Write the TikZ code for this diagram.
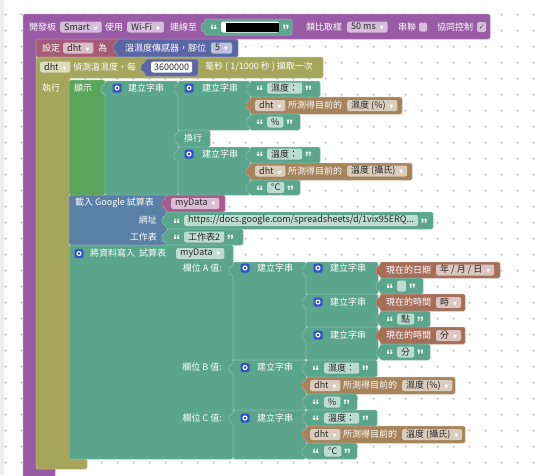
\documentclass[tikz,border=0pt]{standalone}
\usepackage{fontspec}
\setmainfont{Noto Sans CJK TC}
\newfontfamily\latin{Liberation Sans}
\newfontfamily\sym{DejaVu Sans}
\usetikzlibrary{positioning}
\definecolor{cPurp}{HTML}{995BA5}
\definecolor{cRose}{HTML}{A55B75}
\definecolor{cPink}{HTML}{A55B8C}
\definecolor{cSens}{HTML}{5B67A5}
\definecolor{cOliv}{HTML}{A5A55B}
\definecolor{cGrn}{HTML}{5BA55B}
\definecolor{cTeal}{HTML}{5BA58C}
\definecolor{cSlate}{HTML}{5B80A5}
\definecolor{cBrn}{HTML}{A5835B}
\definecolor{cTime}{HTML}{A56E5B}
\definecolor{cGear}{HTML}{3352CC}
\definecolor{cDot}{HTML}{D4D4D4}
\newcommand\blkfont{\fontsize{9}{10}\selectfont}
\newcommand\dn{\hspace{4pt}{\sym\fontsize{5}{5}\selectfont\textcolor{white}{▼}}}

\begin{document}
\begin{tikzpicture}[x=1pt, y=-1pt,
    blk/.style={fill=#1, draw=#1!70!white, line width=.5pt, rounded corners=1.5pt},
    tab/.style={insert path={-- ++(0,4) -- ++(-4,1) -- ++(0,7) -- ++(4,1)}},
    lab/.style={text=white, inner sep=0pt, anchor=west, font=\blkfont},
    qt/.style={text=white, inner sep=0pt, anchor=west, yshift=-3.5pt,
      font={\latin\bfseries\fontsize{15}{15}\selectfont}},
    fld/.style={fill=white, fill opacity=.6, text opacity=1, text=black!85,
      rounded corners=2pt, inner xsep=4pt, inner ysep=0pt,
      minimum height=11pt, anchor=west, font=\blkfont},
    gearbox/.style={fill=cGear, rounded corners=1.5pt, minimum size=9pt, inner sep=0pt,
      path picture={\draw[white, line width=1.1pt] (path picture bounding box.center) circle (2pt);}},
    chkbox/.style={fill=white, fill opacity=.6, text opacity=1, rounded corners=1.5pt,
      minimum width=8pt, minimum height=9pt, inner sep=0pt, anchor=west}
  ]
  \useasboundingbox (0,0) rectangle (544,475);
  \fill[black!7] (0,0) rectangle (4,475);
  % workspace grid
  \foreach \gx in {5,21,...,533} {
    \foreach \gy in {14,30,...,462} {
      \draw[cDot, line width=.4pt] (\gx-1.5,\gy) -- (\gx+1.5,\gy) (\gx,\gy-1.5) -- (\gx,\gy+1.5);
    }
  }

  % board block
  \fill[blk=cPurp] (23,14) -- (490,14) -- (490,39) -- (36,39) -- (36,467) -- (55,467)
    -- (55,480) -- (23,480) -- cycle;
  \node (brd) [lab] at (29,27) {開發板};
  \node (smart) [fld] at (60,27) {Smart\dn};
  \node (use) [lab] at (105,27) {使用};
  \node (wifi) [fld] at (127,27) {Wi-Fi\dn};
  \node (conn) [lab] at (170,27) {連線至};
  \fill[blk=cTeal] (205,19) [tab] -- (205,35) -- (292,35) -- (292,19) -- cycle;
  \node (ssidq) [qt] at (210,27) {“};
  \node (ssid) [fld, minimum width=58pt, fill opacity=1] at (221,27) {};
  \fill[black] (226,22.5) rectangle (279,31.5);
  \node (ssidq2) [qt] at (282,27) {”};
  \node (adc) [lab] at (306,27) {類比取樣};
  \node (ms) [fld] at (347,27) {50 ms\dn};
  \node (ser) [lab] at (398,27) {串聯};
  \node (serbox) [chkbox] at (419,27) {};
  \node (coop) [lab] at (437,27) {協同控制};
  \node (coopbox) [chkbox, minimum width=9pt, minimum height=10pt,
    font={\sym\fontsize{7}{7}\selectfont}, text=black!70] at (477,27) {✓};

  % sensor setup
  \fill[blk=cRose] (36,39) rectangle (120,57);
  \node (set) [lab] at (42,48) {設定};
  \node (setdht) [fld] at (63,48) {dht\dn};
  \node (as) [lab] at (98,48) {為};
  \fill[blk=cSens] (117,39) [tab] -- (117,57) -- (238,57) -- (238,39) -- cycle;
  \node (sens) [lab] at (125,48) {溫濕度傳感器，腳位};
  \node (pin) [fld] at (211,48) {5\dn};

  % sensor loop
  \fill[blk=cOliv] (36,57) -- (323,57) -- (323,78) -- (69,78) -- (69,459) -- (87,459)
    -- (87,469) -- (36,469) -- cycle;
  \node (loopdht) [fld] at (40,67) {dht\dn};
  \node (every) [lab] at (73,67) {偵測溫濕度，每};
  \fill[blk=cSens] (145,59) [tab] -- (145,76) -- (198,76) -- (198,59) -- cycle;
  \node (period) [fld, fill opacity=1, inner xsep=3pt] at (151,67) {3600000};
  \node (unit) [lab] at (205,67) {毫秒 ( 1/1000 秒 ) 擷取一次};
  \node (do) [lab] at (42,88) {執行};

  % show block
  \fill[blk=cGrn] (69,80) rectangle (105,195);
  \node (show) [lab] at (74,88) {顯示};
  \fill[blk=cTeal] (105,81) [tab] -- (105,195) -- (178,195) -- (178,81) -- cycle;
  \node (g1) [gearbox] at (117,88) {};
  \node (j1) [lab] at (128,88) {建立字串};
  \fill[blk=cTeal] (178,81) [tab] -- (178,130) -- (250,130) -- (250,81) -- cycle;
  \fill[blk=cTeal] (178,130) [tab] -- (178,147) -- (210,147) -- (210,130) -- cycle;
  \fill[blk=cTeal] (178,147) [tab] -- (178,195) -- (250,195) -- (250,147) -- cycle;
  \node (g2) [gearbox] at (189,88) {};
  \node (j2) [lab] at (202,88) {建立字串};
  \node (nl) [lab] at (184,138) {換行};
  \node (g3) [gearbox] at (189,154) {};
  \node (j3) [lab] at (202,154) {建立字串};
  % humidity line
  \fill[blk=cTeal] (250,81) [tab] -- (250,97) -- (320,97) -- (320,81) -- cycle;
  \node (hq) [qt] at (256,88) {“};
  \node (hf) [fld] at (267,88) {濕度：};
  \node (hq2) [qt, right=2pt of hf] {”};
  \fill[blk=cBrn] (250,97) [tab] -- (250,114) -- (402,114) -- (402,97) -- cycle;
  \node (hdht) [fld] at (255,105.5) {dht\dn};
  \node (hnow) [lab] at (288,105.5) {所測得目前的};
  \node (hval) [fld] at (347,105.5) {濕度 (\%)\dn};
  \fill[blk=cTeal] (250,114) [tab] -- (250,130) -- (300,130) -- (300,114) -- cycle;
  \node (pq) [qt] at (256,122) {“};
  \node (pf) [fld] at (267,122) {\%};
  \node (pq2) [qt, right=2pt of pf] {”};
  % temperature line
  \fill[blk=cTeal] (250,147) [tab] -- (250,163) -- (320,163) -- (320,147) -- cycle;
  \node (tq) [qt] at (256,154) {“};
  \node (tf) [fld] at (267,154) {溫度：};
  \node (tq2) [qt, right=2pt of tf] {”};
  \fill[blk=cBrn] (250,163) [tab] -- (250,180) -- (412,180) -- (412,163) -- cycle;
  \node (tdht) [fld] at (255,171) {dht\dn};
  \node (tnow) [lab] at (288,171) {所測得目前的};
  \node (tval) [fld] at (347,171) {溫度 (攝氏)\dn};
  \fill[blk=cTeal] (250,180) [tab] -- (250,195) -- (300,195) -- (300,180) -- cycle;
  \node (cq) [qt] at (256,187.5) {“};
  \node (cf) [fld] at (267,187.5) {°C};
  \node (cq2) [qt, right=2pt of cf] {”};

  % google sheet
  \fill[blk=cSlate] (69,195) rectangle (168,245);
  \node (load) [lab] at (75,203) {載入 Google 試算表};
  \node (url) [lab, anchor=east] at (157,220) {網址};
  \node (sheet) [lab, anchor=east] at (157,237) {工作表};
  \fill[blk=cPink] (166,195) [tab] -- (166,212) -- (225,212) -- (225,195) -- cycle;
  \node (data) [fld] at (171,203.5) {myData\dn};
  \fill[blk=cTeal] (166,212) [tab] -- (166,229) -- (433,229) -- (433,212) -- cycle;
  \node (uq) [qt] at (173,220.5) {“};
  \node (uf) [fld] at (184,220.5) {https://docs.google.com/spreadsheets/d/1vix95ERQ...};
  \node (uq2) [qt, right=2pt of uf] {”};
  \fill[blk=cTeal] (166,229) [tab] -- (166,245) -- (243,245) -- (243,229) -- cycle;
  \node (sq) [qt] at (173,237) {“};
  \node (sf) [fld] at (184,237) {工作表2};
  \node (sq2) [qt, right=2pt of sf] {”};

  % write row
  \fill[blk=cTeal] (69,245) rectangle (233,459);
  \node (g4) [gearbox] at (79,253.5) {};
  \node (write) [lab] at (90,253.5) {將資料寫入\ \ 試算表};
  \node (wdata) [fld] at (176,253.5) {myData\dn};
  \node (colA) [lab, anchor=east] at (222,268) {欄位 A 值:};
  \node (colB) [lab, anchor=east] at (222,367) {欄位 B 值:};
  \node (colC) [lab, anchor=east] at (222,418) {欄位 C 值:};

  % column A
  \fill[blk=cTeal] (233,262) [tab] -- (233,360) -- (306,360) -- (306,262) -- cycle;
  \node (gA) [gearbox] at (245,268) {};
  \node (jA) [lab] at (257,268) {建立字串};
  \fill[blk=cTeal] (306,262) [tab] -- (306,294) -- (378,294) -- (378,262) -- cycle;
  \fill[blk=cTeal] (306,294) [tab] -- (306,327) -- (378,327) -- (378,294) -- cycle;
  \fill[blk=cTeal] (306,327) [tab] -- (306,360) -- (378,360) -- (378,327) -- cycle;
  \node (gA1) [gearbox] at (318,268) {};
  \node (jA1) [lab] at (330,268) {建立字串};
  \node (gA2) [gearbox] at (318,302) {};
  \node (jA2) [lab] at (330,302) {建立字串};
  \node (gA3) [gearbox] at (318,335) {};
  \node (jA3) [lab] at (330,335) {建立字串};
  \fill[blk=cTime] (380,262) [tab] -- (380,278) -- (500,278) -- (500,262) -- cycle;
  \node (date) [lab] at (386,270) {現在的日期};
  \node (datef) [fld] at (436,270) {年 / 月 / 日\dn};
  \fill[blk=cTeal] (380,278) [tab] -- (380,294) -- (423,294) -- (423,278) -- cycle;
  \node (bq) [qt] at (386,286) {“};
  \node (bf) [fld, minimum width=9pt] at (397,286) {};
  \node (bq2) [qt, right=2pt of bf] {”};
  \fill[blk=cTime] (380,294) [tab] -- (380,311) -- (465,311) -- (465,294) -- cycle;
  \node (hour) [lab] at (386,302.5) {現在的時間};
  \node (hourf) [fld] at (436,302.5) {時\dn};
  \fill[blk=cTeal] (380,311) [tab] -- (380,327) -- (430,327) -- (430,311) -- cycle;
  \node (oq) [qt] at (386,319) {“};
  \node (of) [fld] at (397,319) {點};
  \node (oq2) [qt, right=2pt of of] {”};
  \fill[blk=cTime] (380,327) [tab] -- (380,344) -- (465,344) -- (465,327) -- cycle;
  \node (min) [lab] at (386,335.5) {現在的時間};
  \node (minf) [fld] at (436,335.5) {分\dn};
  \fill[blk=cTeal] (380,344) [tab] -- (380,360) -- (430,360) -- (430,344) -- cycle;
  \node (mq) [qt] at (386,352) {“};
  \node (mf) [fld] at (397,352) {分};
  \node (mq2) [qt, right=2pt of mf] {”};

  % column B
  \fill[blk=cTeal] (233,360) [tab] -- (233,410) -- (306,410) -- (306,360) -- cycle;
  \node (gB) [gearbox] at (245,367.5) {};
  \node (jB) [lab] at (257,367.5) {建立字串};
  \fill[blk=cTeal] (306,360) [tab] -- (306,377) -- (377,377) -- (377,360) -- cycle;
  \node (bhq) [qt] at (312,368) {“};
  \node (bhf) [fld] at (324,368) {濕度：};
  \node (bhq2) [qt, right=2pt of bhf] {”};
  \fill[blk=cBrn] (306,377) [tab] -- (306,394) -- (455,394) -- (455,377) -- cycle;
  \node (bdht) [fld] at (310,385.5) {dht\dn};
  \node (bnow) [lab] at (343,385.5) {所測得目前的};
  \node (bval) [fld] at (402,385.5) {濕度 (\%)\dn};
  \fill[blk=cTeal] (306,394) [tab] -- (306,410) -- (357,410) -- (357,394) -- cycle;
  \node (bpq) [qt] at (312,402) {“};
  \node (bpf) [fld] at (324,402) {\%};
  \node (bpq2) [qt, right=2pt of bpf] {”};

  % column C
  \fill[blk=cTeal] (233,410) [tab] -- (233,459) -- (306,459) -- (306,410) -- cycle;
  \node (gC) [gearbox] at (245,418) {};
  \node (jC) [lab] at (257,418) {建立字串};
  \fill[blk=cTeal] (306,410) [tab] -- (306,426) -- (377,426) -- (377,410) -- cycle;
  \node (ctq) [qt] at (312,418) {“};
  \node (ctf) [fld] at (324,418) {溫度：};
  \node (ctq2) [qt, right=2pt of ctf] {”};
  \fill[blk=cBrn] (306,426) [tab] -- (306,443) -- (465,443) -- (465,426) -- cycle;
  \node (cdht) [fld] at (310,434.5) {dht\dn};
  \node (cnow) [lab] at (343,434.5) {所測得目前的};
  \node (cval) [fld] at (402,434.5) {溫度 (攝氏)\dn};
  \fill[blk=cTeal] (306,443) [tab] -- (306,459) -- (357,459) -- (357,443) -- cycle;
  \node (ccq) [qt] at (312,451) {“};
  \node (ccf) [fld] at (324,451) {°C};
  \node (ccq2) [qt, right=2pt of ccf] {”};
\end{tikzpicture}
\end{document}
